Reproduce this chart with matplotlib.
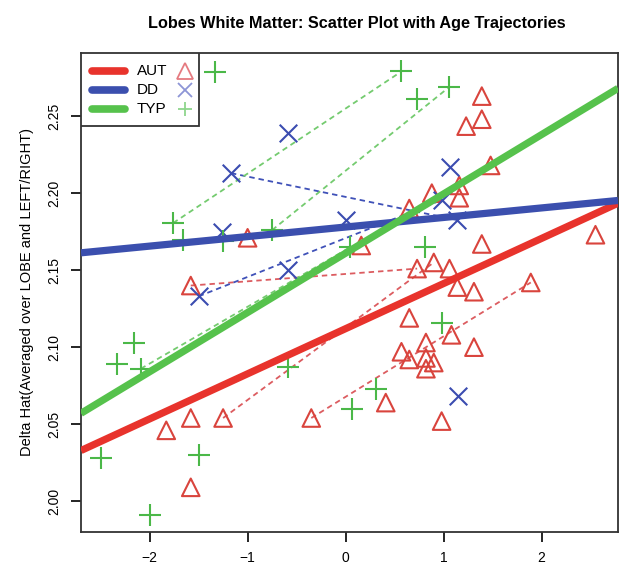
import matplotlib
matplotlib.use("Agg")
import matplotlib.pyplot as plt
from matplotlib.patches import Rectangle

plt.rcParams['font.family'] = ['Liberation Sans', 'DejaVu Sans']

# Data

aut_x = [-1.00, -1.58, -1.58, -1.25, -1.83, -0.35, -1.58,
         1.39, 1.39, 1.23, 1.48, 0.88, 1.16, 1.16, 0.65, 2.55, 1.39, 0.16,
         0.90, 0.73, 1.06, 1.14, 1.31, 1.89,
         0.65, 1.08, 0.82, 1.31, 0.57, 0.65, 0.82, 0.90, 0.82, 0.41, 0.98]
aut_y = [2.171, 2.140, 2.054, 2.054, 2.046, 2.054, 2.009,
         2.263, 2.248, 2.2435, 2.218, 2.200, 2.205, 2.197, 2.190, 2.173, 2.167, 2.166,
         2.155, 2.151, 2.151, 2.139, 2.136, 2.142,
         2.119, 2.108, 2.103, 2.100, 2.097, 2.092, 2.093, 2.090, 2.086, 2.064, 2.052]

dd_x = [-0.59, -1.17, -1.26, -0.59, -1.50, 1.07, 0.98, 1.14, 0.00, 1.15]
dd_y = [2.239, 2.213, 2.175, 2.150, 2.133, 2.217, 2.1955, 2.1825, 2.1825, 2.068]

typ_x = [-1.33, -1.76, -1.66, -1.25, -0.75, -2.16, -2.33, -2.09, -0.59, -2.50,
         -1.50, -2.00, 0.57, 0.73, 1.06, 0.05, 0.81, 0.98, 0.31, 0.07]
typ_y = [2.2786, 2.1806, 2.1695, 2.169, 2.176, 2.103, 2.089, 2.086, 2.087, 2.028,
         2.030, 1.991, 2.279, 2.261, 2.269, 2.165, 2.165, 2.116, 2.073, 2.060]

# subject trajectories: (x0, y0, x1, y1)
aut_traj = [(-1.58, 2.140, 0.73, 2.151),
            (-1.25, 2.054, 0.90, 2.155),
            (-0.35, 2.054, 1.89, 2.142)]
dd_traj = [(-1.50, 2.133, 0.98, 2.1955),
           (-1.17, 2.213, 1.14, 2.1825)]
typ_traj = [(-1.76, 2.1806, 0.57, 2.279),
            (-0.75, 2.176, 1.06, 2.269),
            (-2.09, 2.086, 0.05, 2.165)]

# fitted age trajectories (intercept, slope)
groups = ["AUT", "DD", "TYP"]
intercepts = [2.112, 2.178, 2.161]
slopes = [0.0293, 0.0062, 0.0385]

x_ticks = [-2, -1, 0, 1, 2]
y_ticks = [2.00, 2.05, 2.10, 2.15, 2.20, 2.25]

line_colors = ["#e8332c", "#3b4fae", "#56c24c"]
point_colors = ["#d9443d", "#3b4cb0", "#4bb848"]
dash_colors = ["#dc5c60", "#3f51b8", "#74cb6f"]
legend_marker_colors = ["#e57a80", "#8d95d6", "#8fd58c"]
markers = ["^", "x", "+"]


fig = plt.figure(figsize=(6.29, 5.74), dpi=100)
ax = fig.add_axes([0.1288, 0.0732, 0.8537, 0.8345])

ax.scatter(aut_x, aut_y, marker="^", s=160, facecolors="none",
           edgecolors=point_colors[0], linewidths=1.5, zorder=3)
ax.scatter(dd_x, dd_y, marker="x", s=160, color=point_colors[1],
           linewidths=1.5, zorder=3)
ax.scatter(typ_x, typ_y, marker="+", s=250, color=point_colors[2],
           linewidths=1.5, zorder=3)

for trajs, c in zip([aut_traj, dd_traj, typ_traj], dash_colors):
    for x0, y0, x1, y1 in trajs:
        ax.plot([x0, x1], [y0, y1], color=c, lw=1.3, ls=(0, (3, 2.2)), zorder=2)

for b, m, c in zip(intercepts, slopes, line_colors):
    ax.axline((0, b), slope=m, color=c, lw=5.2, solid_capstyle="butt", zorder=4)

ax.set_xlim(-2.70, 2.78)
ax.set_ylim(1.980, 2.291)
ax.set_xticks(x_ticks)
ax.set_xticklabels(["\u22122", "\u22121", "0", "1", "2"])
ax.set_yticks(y_ticks)
ax.set_yticklabels([f"{v:.2f}" for v in y_ticks], rotation=90, va="center")
ax.tick_params(direction="out", length=7, width=1.2, labelsize=10, pad=7)
for sp in ax.spines.values():
    sp.set_linewidth(1.3)
    sp.set_color("#333333")

ax.set_ylabel("Delta Hat(Averaged over LOBE and LEFT/RIGHT)", fontsize=10.5, labelpad=10)
fig.suptitle("Lobes White Matter: Scatter Plot with Age Trajectories",
             fontsize=11.7, fontweight="bold", x=0.567, y=0.972)

# legend box drawn by hand: line, label, then point symbol
ax.add_patch(Rectangle((0, 0.8476), 0.2197, 0.1524, transform=ax.transAxes,
                       facecolor="white", edgecolor="#333333", lw=1.3, zorder=6))
rows = [0.9624, 0.9228, 0.8831]
for g, c, mc, mk, ry in zip(groups, line_colors, legend_marker_colors, markers, rows):
    ax.plot([0.0205, 0.0819], [ry, ry], transform=ax.transAxes, color=c, lw=5.5,
            solid_capstyle="round", zorder=7)
    ax.text(0.1043, ry, g, transform=ax.transAxes, fontsize=11, va="center", zorder=7)
    if mk == "^":
        ax.plot([0.1937], [ry], transform=ax.transAxes, marker=mk, ms=12, mfc="none",
                mec=mc, mew=1.3, zorder=7)
    else:
        ax.plot([0.1937], [ry], transform=ax.transAxes, marker=mk, ms=10, color=mc,
                mew=1.3, zorder=7)

fig.savefig("out.png", dpi=100)
